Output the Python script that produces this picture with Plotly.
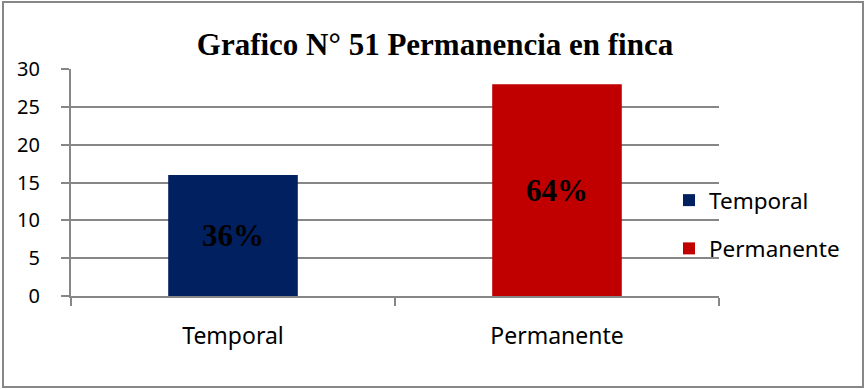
import plotly.graph_objects as go

# Permanencia en finca: conteo por categoría
categorias = ["Temporal", "Permanente"]
valores = [16, 28]
colores = ["#002060", "#C00000"]
y_ticks = [0, 5, 10, 15, 20, 25, 30]

total = sum(valores)
porcentajes = [f"<b>{round(v / total * 100)}%</b>" for v in valores]

W, H = 866, 389
L, R, T, B = 71, 719, 69, 296  # plot area in pixels

fig = go.Figure()
for cat, val, col, pct in zip(categorias, valores, colores, porcentajes):
    fig.add_trace(go.Bar(
        x=[cat], y=[val], name=cat,
        marker=dict(color=col, line=dict(width=0)),
        width=0.4,
        text=[pct], textposition="inside", insidetextanchor="middle",
        textfont=dict(family="Liberation Serif", size=31, color="black"),
        textangle=0, legendgroup=cat,
    ))

pw, ph = R - L, B - T
fig.add_shape(type="rect", xref="paper", yref="paper",
              x0=(3 - L) / pw, x1=(863 - L) / pw,
              y0=(B - 387) / ph, y1=(B - 2) / ph,
              line=dict(color="#878787", width=2), layer="below")

fig.update_layout(
    width=W, height=H,
    margin=dict(l=L, r=W - R, t=T, b=H - B, pad=0),
    paper_bgcolor="white", plot_bgcolor="white",
    barmode="overlay",
    title=dict(text="<b>Grafico N° 51 Permanencia en finca</b>",
               font=dict(family="Liberation Serif", size=31, color="black"),
               x=435 / W, xref="container", xanchor="center",
               y=1 - 44 / H, yref="container", yanchor="middle"),
    legend=dict(x=(669 - L) / pw, y=(B - 179) / ph, xanchor="left", yanchor="top",
                font=dict(family="Noto Sans", size=22.5, color="black"),
                traceorder="grouped", tracegroupgap=16, bgcolor="rgba(0,0,0,0)"),
    xaxis=dict(showline=True, linecolor="#878787", linewidth=2,
               ticks="outside", ticklen=8, tickcolor="#878787", tickwidth=2,
               tickson="boundaries", showgrid=False,
               tickfont=dict(family="Noto Sans", size=23, color="black"),
               ticklabelstandoff=18),
    yaxis=dict(range=[0, 30], tickvals=y_ticks, showline=True,
               linecolor="#878787", linewidth=2,
               ticks="outside", ticklen=8, tickcolor="#878787", tickwidth=2,
               showgrid=True, gridcolor="#878787", gridwidth=2, zeroline=False,
               tickfont=dict(family="Noto Sans", size=20, color="black"),
               ticklabelstandoff=17),
)

fig.write_html("out.html")
